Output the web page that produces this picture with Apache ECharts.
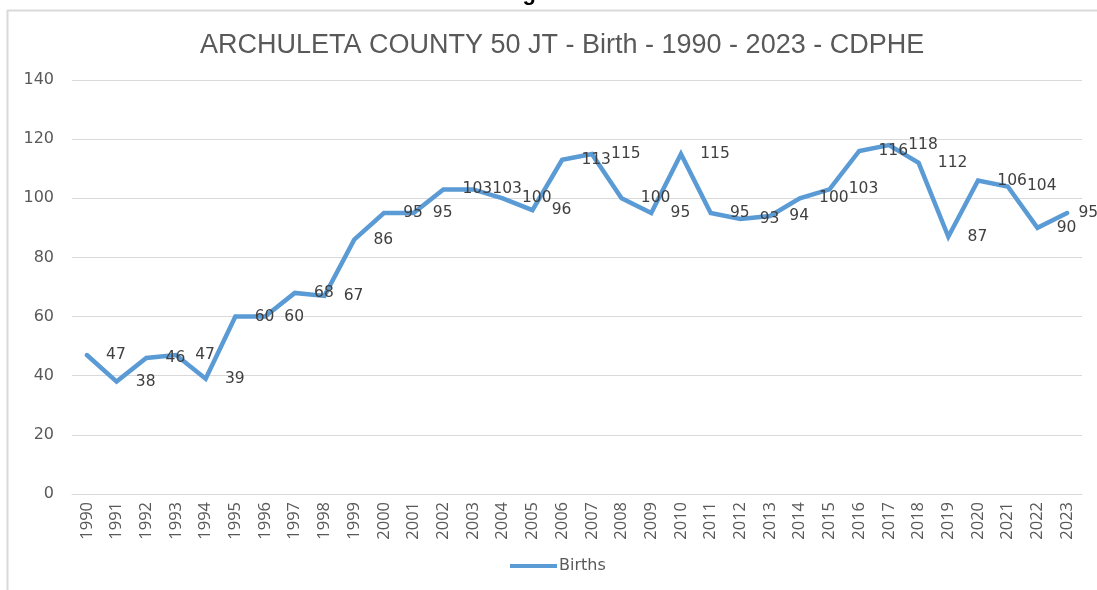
<!DOCTYPE html>
<html>
<head>
<meta charset="utf-8">
<script src="https://cdn.jsdelivr.net/npm/echarts@6/dist/echarts.min.js"></script>
<style>
  html, body { margin: 0; padding: 0; background: #fff; }
  #chart { width: 1097px; height: 590px; }
</style>
</head>
<body>
<div id="chart"></div>
<script>
const years = [
  '1990', '1991', '1992', '1993', '1994', '1995', '1996', '1997', '1998', '1999',
  '2000', '2001', '2002', '2003', '2004', '2005', '2006', '2007', '2008', '2009',
  '2010', '2011', '2012', '2013', '2014', '2015', '2016', '2017', '2018', '2019',
  '2020', '2021', '2022', '2023'
];

const births = [
  47, 38, 46, 47, 39, 60, 60, 68, 67, 86,
  95, 95, 103, 103, 100, 96, 113, 115, 100, 95,
  115, 95, 93, 94, 100, 103, 116, 118, 112, 87,
  106, 104, 90, 95
];

// last label sits closer to its point so it is not pushed off the page
const seriesData = births.map((v, i) =>
  i === births.length - 1 ? { value: v, label: { distance: 11 } } : v
);

const chart = echarts.init(document.getElementById('chart'));

chart.setOption({
  backgroundColor: '#ffffff',
  animation: false,
  title: {
    text: 'ARCHULETA COUNTY 50 JT - Birth - 1990 - 2023 - CDPHE',
    left: 195,
    top: 27,
    textStyle: {
      fontFamily: 'Liberation Sans, sans-serif',
      fontSize: 27,
      fontWeight: 'normal',
      color: '#595959'
    }
  },
  graphic: [
    {
      type: 'line',
      shape: { x1: 7.5, y1: 10, x2: 7.5, y2: 590 },
      style: { stroke: '#d9d9d9', lineWidth: 2 }
    },
    {
      type: 'line',
      shape: { x1: 7, y1: 10.5, x2: 1097, y2: 10.5 },
      style: { stroke: '#d9d9d9', lineWidth: 2 }
    },
    {
      type: 'text',
      left: 503,
      top: -17,
      style: {
        text: 'Figure',
        font: 'bold 22px Liberation Sans, sans-serif',
        fill: '#000'
      }
    }
  ],
  legend: {
    top: 558,
    left: 510,
    icon: 'path://M0,0 L47,0 L47,4 L0,4 Z',
    itemWidth: 47,
    itemHeight: 4,
    itemGap: 4,
    padding: 0,
    itemStyle: { color: '#5b9bd5', opacity: 1 },
    textStyle: {
      fontFamily: 'DejaVu Sans, sans-serif',
      fontSize: 16,
      color: '#595959',
      padding: [0, 0, 0, -3]
    },
    data: ['Births']
  },
  grid: {
    left: 72,
    right: 15,
    top: 80,
    bottom: 96
  },
  xAxis: {
    type: 'category',
    data: years,
    boundaryGap: true,
    axisLine: { show: true, lineStyle: { color: '#d9d9d9', width: 1 } },
    axisTick: { show: false },
    axisLabel: {
      rotate: 90,
      interval: 0,
      margin: 8,
      fontFamily: 'Open Sans, sans-serif',
      fontSize: 16.5,
      color: '#595959'
    }
  },
  yAxis: {
    type: 'value',
    min: 0,
    max: 140,
    interval: 20,
    axisLine: { show: false },
    axisTick: { show: false },
    axisLabel: {
      margin: 18,
      fontFamily: 'DejaVu Sans, sans-serif',
      fontSize: 16,
      color: '#595959'
    },
    splitLine: { lineStyle: { color: '#d9d9d9', width: 1 } }
  },
  series: [
    {
      name: 'Births',
      type: 'line',
      data: seriesData,
      symbol: 'circle',
      symbolSize: 0.5,
      showSymbol: true,
      itemStyle: { color: '#5b9bd5' },
      lineStyle: { color: '#5b9bd5', width: 4.5, cap: 'round', join: 'miter' },
      label: {
        show: true,
        position: 'right',
        distance: 19,
        fontFamily: 'DejaVu Sans, sans-serif',
        fontSize: 15.5,
        color: '#404040'
      },
      labelLayout: { hideOverlap: false },
      emphasis: { disabled: true }
    }
  ]
});
</script>
</body>
</html>
